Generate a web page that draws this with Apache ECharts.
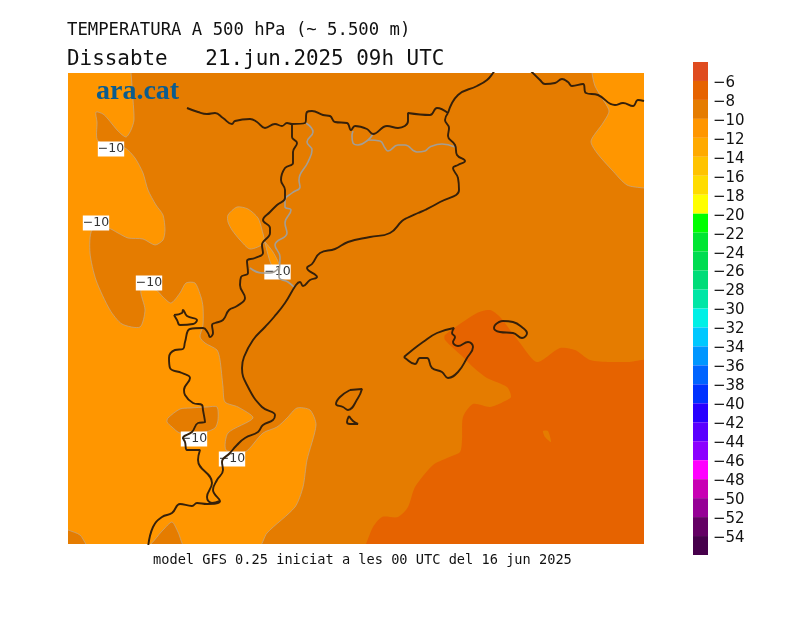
<!DOCTYPE html>
<html>
<head>
<meta charset="utf-8">
<style>
  html, body { margin: 0; background: #fff; }
  #main { width: 800px; height: 617px; }
</style>
<script src="https://cdn.jsdelivr.net/npm/echarts@6/dist/echarts.min.js"></script>
</head>
<body>
<div id="main"></div>
<script>
// textos
const title1 = 'TEMPERATURA A 500 hPa (~ 5.500 m)';
const title2 = 'Dissabte   21.jun.2025 09h UTC';
const footer = 'model GFS 0.25 iniciat a les 00 UTC del 16 jun 2025';
const logo = 'ara.cat';

// escala de colors: sostre de cada tram (graus C) i el seu color
const scaleTops = [-4, -6, -8, -10, -12, -14, -16, -18, -20, -22, -24, -26, -28, -30, -32, -34, -36, -38, -40, -42, -44, -46, -48, -50, -52, -54];
const scaleColors = ['#DF4B1F', '#E66300', '#E57C00', '#FF9600', '#FFAA00', '#FFC300', '#FFDC00', '#FFFF00',
  '#00FF00', '#00E632', '#00DC50', '#00DC78', '#00E6A5', '#00F0E6', '#00C8FF', '#0096FF', '#0064FF', '#0032FF',
  '#2800FF', '#5A00FF', '#8C00FF', '#FF00FF', '#C800B4', '#960096', '#640064', '#46004B'];

// zones de temperatura en unitats de mapa (est, nord)
const westBelow10 = [[-8,478],[62,478],[63,471],[65,444],[66,424],[63,414],[58,407],[50,413],[40,425],[35,430],[28,432],[29,422],[30,403],[57,396],[67,386],[75,371],[80,354],[88,339],[95,329],[97,314],[95,304],[87,299],[75,305],[60,306],[50,311],[40,316],[24,314],[22,291],[28,264],[42,234],[54,220],[72,217],[77,234],[73,254],[88,254],[95,247],[103,241],[112,251],[118,261],[127,261],[133,247],[135,237],[135,219],[132,207],[137,201],[149,194],[152,184],[155,157],[157,142],[170,137],[185,126],[160,111],[158,94],[177,92],[195,111],[209,117],[219,126],[229,136],[242,134],[248,119],[239,84],[235,57],[227,37],[199,11],[190,-4],[118,-4],[110,12],[104,22],[95,14],[77,-4],[22,-4],[12,9],[0,14],[-8,17]];
const innerBelow10 = [[160,322],[160,329],[169,337],[180,335],[190,326],[194,314],[196,301],[182,295],[172,304],[164,314]];
const wedgeBelow10 = [[197,302],[205,292],[211,279],[204,278],[197,301]];
const northEastBelow10 = [[524,478],[524,471],[527,458],[534,446],[541,433],[535,421],[523,403],[529,391],[544,374],[559,359],[576,356],[584,356],[584,478]];
const pocketAbove10 = [[112,135],[100,126],[99,122],[104,117],[112,111],[137,112],[147,116],[150,124],[149,137],[139,137],[122,136]];
const southEastAbove8 = [[422,234],[432,227],[452,201],[469,182],[492,196],[507,194],[522,184],[542,182],[560,182],[584,182],[584,-8],[294,-8],[298,0],[305,17],[314,27],[330,27],[340,37],[347,57],[365,79],[379,86],[392,92],[394,104],[395,127],[405,140],[422,137],[435,142],[443,147],[439,157],[419,166],[405,177],[395,187],[377,204],[377,209],[409,231]];
const pocketBelow8 = [[475,113],[480,113],[483,102],[477,107]];

// etiquetes de la isoterma de -10
const contourLabels = [[43,396],[28,322],[81,262],[209.5,273],[126,106],[164,86]];

// fronteres i costa
const northBorder = [[119,436],[130,432],[139,430],[147,431],[155,426],[164,420],[167,423],[182,425],[189,422],[197,416],[207,420],[214,418],[219,421],[224,420],[237,421],[239,432],[244,433],[255,429],[262,428],[267,422],[279,421],[283,414],[287,418],[299,415],[305,410],[319,418],[330,416],[340,423],[340,431],[362,429],[369,436],[380,431]];
const frenchCoastWest = [[380,431],[390,449],[409,458],[419,464],[425,471],[428,476]];
const frenchCoastEast = [[460,476],[472,464],[477,460],[487,461],[494,465],[500,462],[504,458],[515,460],[518,451],[530,449],[547,439],[555,441],[565,438],[570,444],[576,443]];
const eastCoast = [[380,431],[377,424],[381,416],[380,408],[387,399],[389,389],[397,383],[390,379],[385,376],[390,366],[391,354],[372,342],[357,334],[350,331],[339,326],[334,323],[322,311],[302,307],[280,302],[267,295],[252,291],[244,280],[239,276],[249,267],[242,264],[235,258],[232,262],[228,259],[217,241],[206,227],[197,217],[185,204],[176,187],[174,176],[180,157],[194,137],[207,129],[205,124],[195,119],[190,112],[177,106],[169,99],[162,91],[154,82],[155,74],[149,64],[145,54],[152,43],[139,40],[129,41],[124,38],[112,40],[104,31],[94,27],[85,17],[80,-4]];
const innerBorder = [[224,420],[224,407],[229,401],[225,392],[225,381],[217,376],[213,364],[217,354],[217,346],[209,339],[202,332],[195,324],[202,316],[202,311],[194,299],[195,291],[187,286],[179,283],[180,271],[173,267],[172,259],[177,246],[169,238],[161,234],[155,224],[147,221],[144,219],[145,211],[142,207],[140,211],[135,216],[122,215],[117,202],[115,195],[107,194],[101,186],[102,176],[114,171],[122,166],[116,154],[117,149],[125,141],[134,139],[135,134],[137,122],[130,121],[124,112],[115,106],[117,102],[119,94],[132,94],[130,84],[144,61],[139,47],[144,41],[152,43]];
const menorca = [[427,219],[435,223],[445,222],[455,216],[459,211],[454,206],[445,211],[432,212],[426,216],[427,219]];
const mallorca = [[336,187],[342,192],[355,202],[369,211],[386,216],[384,211],[387,207],[385,202],[390,198],[400,202],[405,197],[399,186],[390,172],[380,166],[374,172],[364,176],[359,186],[352,186],[347,180],[337,186],[336,187]];
const ibiza = [[282,154],[294,155],[290,146],[280,134],[275,137],[268,140],[272,147],[282,154]];
const formentera = [[281,128],[285,123],[290,120],[282,120],[279,122],[281,128]];
const lagoon = [[106,229],[114,231],[115,234],[119,228],[129,224],[125,220],[112,219],[109,224],[106,229]];

// limits regionals en gris
const regionA = [[238,421],[245,412],[239,402],[244,394],[240,382],[231,364],[232,357],[224,351],[217,344],[217,337],[223,334],[217,321],[219,311],[207,299],[212,287],[211,267],[220,262],[227,256]];
const regionB = [[182,276],[194,271],[202,271],[211,276]];
const regionC = [[285,413],[284,408],[285,401],[290,399],[300,404],[305,410]];
const regionD = [[300,404],[312,403],[317,396],[320,393],[330,399],[337,399],[349,392],[357,393],[362,397],[374,400],[387,397]];

const textFont = 'DejaVu Sans';
const titleFont = 'DejaVu Sans Mono';

function zoneSeries(rings, color, stroke) {
  return {
    type: 'custom',
    xAxisIndex: 0,
    yAxisIndex: 0,
    clip: true,
    silent: true,
    z: 2,
    data: rings.map(function(r, i) { return [i]; }),
    renderItem: function(params, api) {
      let points = rings[api.value(0)].map(function(p) { return api.coord(p); });
      return {
        type: 'polygon',
        shape: { points: points, smooth: 0.25 },
        style: { fill: color, stroke: stroke || color, lineWidth: stroke ? 0.7 : 0 }
      };
    }
  };
}

function borderSeries(points, color, width) {
  return {
    type: 'line',
    xAxisIndex: 0,
    yAxisIndex: 0,
    data: points,
    smooth: 0.45,
    symbol: 'none',
    silent: true,
    clip: true,
    z: 5,
    lineStyle: { color: color, width: width }
  };
}

function titleText(text, left, top, size) {
  return { text: text, left: left, top: top, padding: 0, textStyle: { fontFamily: titleFont, fontSize: size, fontWeight: 'normal', color: '#111' } };
}

let mycharts = echarts.init(document.getElementById('main'));

let coastColor = '#35200A';
let regionColor = '#A39E96';
let contourColor = '#C0AA90';

let option = {
  animation: false,
  backgroundColor: '#ffffff',
  title: [
    titleText(title1, 67, 22, 17.3),
    titleText(title2, 67, 49, 20.9),
    titleText(footer, 153, 553, 13.65),
    { text: logo, left: 96, top: 78, padding: 0, z: 8, textStyle: { fontFamily: 'Liberation Serif', fontSize: 28, fontWeight: 'bold', color: '#0B5C8E' } }
  ],
  grid: [
    { left: 68, top: 73, width: 576, height: 471, show: true, backgroundColor: scaleColors[2], borderWidth: 0 },
    { left: 693, top: 62, width: 15, height: 493, show: false }
  ],
  xAxis: [
    { type: 'value', gridIndex: 0, min: 0, max: 576, show: false },
    { type: 'value', gridIndex: 1, min: 0, max: 1, show: false }
  ],
  yAxis: [
    { type: 'value', gridIndex: 0, min: 0, max: 471, show: false },
    {
      type: 'value',
      gridIndex: 1,
      min: -56,
      max: -4,
      interval: 2,
      position: 'right',
      axisLine: { show: false },
      axisTick: { show: false },
      splitLine: { show: false },
      axisLabel: {
        margin: 5,
        verticalAlign: 'top',
        lineHeight: 4,
        fontFamily: textFont,
        fontSize: 15,
        color: '#111',
        formatter: function(value) {
          if (value === -4 || value === -56) return '';
          return '\u2212' + Math.abs(value);
        }
      }
    }
  ],
  series: [
    zoneSeries([westBelow10, innerBelow10, wedgeBelow10, northEastBelow10], scaleColors[3], contourColor),
    zoneSeries([pocketAbove10], scaleColors[2], contourColor),
    zoneSeries([southEastAbove8], scaleColors[1]),
    zoneSeries([pocketBelow8], scaleColors[2]),
    {
      type: 'scatter',
      xAxisIndex: 0,
      yAxisIndex: 0,
      data: contourLabels,
      symbolSize: 0,
      silent: true,
      z: 3,
      itemStyle: { opacity: 1 },
      label: {
        show: true,
        position: 'inside',
        offset: [0, 1],
        formatter: '\u221210',
        fontFamily: textFont,
        fontSize: 12.5,
        color: '#333',
        backgroundColor: '#fff',
        padding: [1, 0]
      }
    },
    borderSeries(regionA, regionColor, 1.6),
    borderSeries(regionB, regionColor, 1.6),
    borderSeries(regionC, regionColor, 1.6),
    borderSeries(regionD, regionColor, 1.6),
    borderSeries(northBorder, coastColor, 1.9),
    borderSeries(frenchCoastWest, coastColor, 1.9),
    borderSeries(frenchCoastEast, coastColor, 1.9),
    borderSeries(eastCoast, coastColor, 1.9),
    borderSeries(innerBorder, coastColor, 1.9),
    borderSeries(menorca, coastColor, 1.9),
    borderSeries(mallorca, coastColor, 1.9),
    borderSeries(ibiza, coastColor, 1.9),
    borderSeries(formentera, coastColor, 1.9),
    borderSeries(lagoon, coastColor, 1.9),
    {
      type: 'custom',
      xAxisIndex: 1,
      yAxisIndex: 1,
      silent: true,
      data: scaleTops.map(function(top, i) { return [0, top, i]; }),
      renderItem: function(params, api) {
        let top = api.value(1);
        let a = api.coord([0, top]);
        let b = api.coord([1, top - 2]);
        return {
          type: 'rect',
          shape: { x: a[0], y: a[1], width: b[0] - a[0], height: b[1] - a[1] },
          style: { fill: scaleColors[api.value(2)] }
        };
      }
    }
  ]
};

mycharts.setOption(option);
</script>
</body>
</html>
